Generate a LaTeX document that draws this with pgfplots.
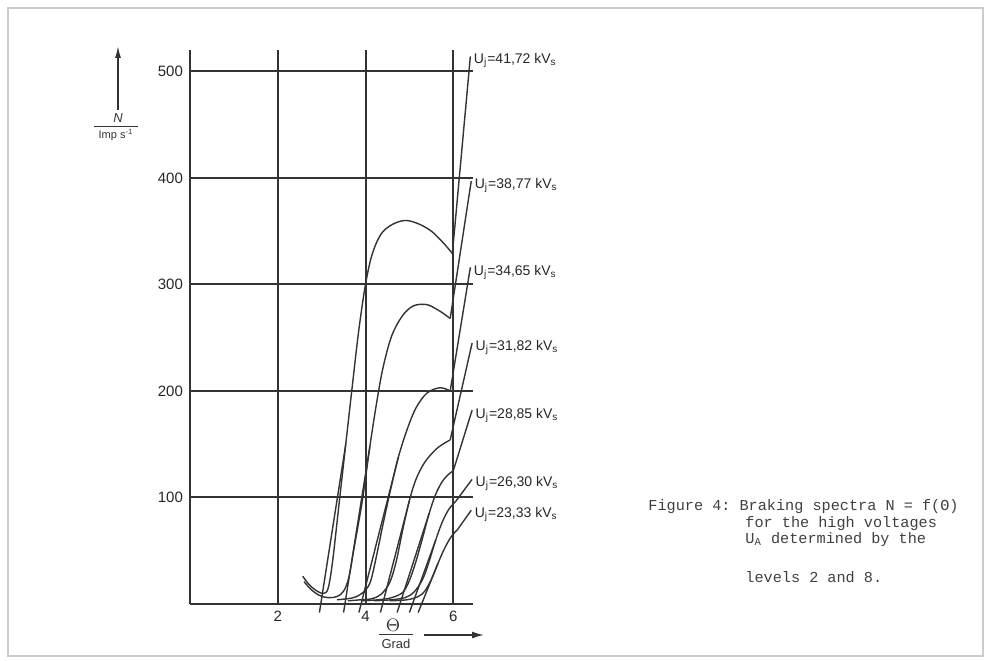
\documentclass[border=0pt]{standalone}
\usepackage{fontspec}
\setmainfont{Liberation Sans}
\setmonofont{Liberation Mono}
\usepackage{pgfplots}
\pgfplotsset{compat=1.18}
\usetikzlibrary{arrows.meta}
\tikzset{cv/.style={black!80, line width=0.7pt, smooth, tension=0.55},
  ln/.style={black!80, line width=0.7pt},
  lab/.style={anchor=west, font=\fontsize{7}{8}\selectfont, text=black!85, inner sep=0.5pt}}
\begin{document}
\begin{tikzpicture}[x=1pt,y=1pt]
\path[use as bounding box] (0pt,0pt) rectangle (494.5pt,330pt);
\draw[black!20, line width=0.6pt] (4pt,2pt) rectangle (491.5pt,326pt);
\begin{axis}[at={(95pt,28pt)}, anchor=south west, scale only axis,
  width=141.5pt, height=277pt,
  xmin=0, xmax=6.45, ymin=0, ymax=520,
  axis x line=bottom, axis y line=left,
  axis line style={-, line width=1pt, black!80},
  xtick={2,4,6}, ytick={100,200,300,400,500},
  grid=major, major grid style={line width=1pt, black!80},
  major tick length=0pt,
  /pgf/number format/assume math mode=true,
  ticklabel style={font=\fontsize{7.5}{8}\selectfont, text=black!85},
  clip=false]
% curve 41.72
\addplot[cv] coordinates {(2.57,26) (2.72,18) (2.9,12) (3.05,10) (3.15,15) (3.25,40) (3.4,95) (3.55,150) (3.7,205) (3.85,258) (4.0,300) (4.15,328) (4.35,347) (4.6,356) (4.9,360) (5.2,357) (5.5,350) (5.75,340) (5.9,333) (5.98,329)};
\addplot[ln] coordinates {(5.98,329) (6.39,514)};
\addplot[ln] coordinates {(2.95,-8) (3.55,150)};
% curve 38.77
\addplot[cv] coordinates {(2.6,21) (2.75,14) (2.95,8) (3.15,6) (3.35,7) (3.5,12) (3.62,25) (3.75,55) (3.85,78) (3.95,103) (4.1,148) (4.25,188) (4.4,222) (4.6,252) (4.85,271) (5.1,280) (5.4,281) (5.65,276) (5.8,272) (5.93,268)};
\addplot[ln] coordinates {(5.93,268) (6.41,397)};
\addplot[ln] coordinates {(3.5,-8) (4.1,148)};
% curve 34.65
\addplot[cv] coordinates {(3.35,4) (3.6,5) (3.8,7) (4.0,13) (4.12,22) (4.25,45) (4.4,75) (4.57,107) (4.75,138) (4.95,164) (5.15,184) (5.4,198) (5.7,203) (5.93,200)};
\addplot[ln] coordinates {(5.93,200) (6.39,316)};
\addplot[ln] coordinates {(3.85,-8) (4.75,138)};
% curve 31.82
\addplot[cv] coordinates {(3.6,3) (3.9,4) (4.15,5) (4.35,9) (4.55,20) (4.7,40) (4.85,70) (5.0,97) (5.15,117) (5.35,133) (5.6,145) (5.8,151) (5.93,154)};
\addplot[ln] coordinates {(5.93,154) (6.43,245)};
\addplot[ln] coordinates {(4.34,-8) (5.0,97)};
% curve 28.85
\addplot[cv] coordinates {(3.9,3) (4.3,4) (4.6,6) (4.85,11) (5.0,22) (5.15,40) (5.3,62) (5.45,85) (5.6,103) (5.75,115) (5.9,122) (6.0,125)};
\addplot[ln] coordinates {(6.0,125) (6.43,182)};
\addplot[ln] coordinates {(4.72,-8) (5.45,85)};
% curve 26.30
\addplot[cv] coordinates {(4.2,3) (4.6,4) (4.9,6) (5.1,11) (5.3,23) (5.45,40) (5.6,60) (5.75,77) (5.9,89) (6.05,96)};
\addplot[ln] coordinates {(6.05,96) (6.43,117)};
\addplot[ln] coordinates {(5.0,-8) (5.6,60)};
% curve 23.33
\addplot[cv] coordinates {(4.55,3) (4.95,4) (5.2,7) (5.35,12) (5.5,23) (5.65,38) (5.8,52) (5.95,63) (6.1,70)};
\addplot[ln] coordinates {(6.1,70) (6.41,88)};
\addplot[ln] coordinates {(5.2,-8) (5.65,38)};
% labels
\node[lab] at (axis cs:6.44,510) {U\textsubscript{j}=41,72 kV\textsubscript{s}};
\node[lab] at (axis cs:6.46,393) {U\textsubscript{j}=38,77 kV\textsubscript{s}};
\node[lab] at (axis cs:6.44,311) {U\textsubscript{j}=34,65 kV\textsubscript{s}};
\node[lab] at (axis cs:6.48,241) {U\textsubscript{j}=31,82 kV\textsubscript{s}};
\node[lab] at (axis cs:6.48,177) {U\textsubscript{j}=28,85 kV\textsubscript{s}};
\node[lab] at (axis cs:6.48,113) {U\textsubscript{j}=26,30 kV\textsubscript{s}};
\node[lab] at (axis cs:6.46,84) {U\textsubscript{j}=23,33 kV\textsubscript{s}};
\end{axis}
% y axis label
\draw[black!80, line width=0.7pt, -{Latex[length=6pt,width=3pt]}] (59pt,275pt) -- (59pt,307pt);
\node[font=\fontsize{6.5}{7}\selectfont\itshape, text=black!80] at (59pt,271pt) {N};
\draw[black!80, line width=0.5pt] (47pt,266.5pt) -- (69pt,266.5pt);
\node[font=\fontsize{5.5}{6}\selectfont, text=black!80] at (58pt,262.5pt) {Imp s\textsuperscript{-1}};
% x axis label
\node[font=\fontsize{9}{10}\selectfont, text=black!80] at (196.5pt,17.5pt) {$\Theta$};
\draw[black!80, line width=0.5pt] (189.5pt,12.8pt) -- (206.5pt,12.8pt);
\node[font=\fontsize{6.5}{7}\selectfont, text=black!80] at (198pt,8.3pt) {Grad};
\draw[black!80, line width=0.8pt, -{Latex[length=6pt,width=3.5pt]}] (212pt,12.5pt) -- (242pt,12.5pt);
% caption
\begin{scope}[every node/.style={anchor=base west, inner sep=0pt, font=\ttfamily\fontsize{7.6}{8}\selectfont, text=black!75}]
\node at (324pt,75pt) {Figure 4: Braking spectra N = f(Θ)};
\node at (372.5pt,66.5pt) {for the high voltages};
\node at (372.5pt,58.5pt) {U\textsubscript{A} determined by the};
\node at (372.5pt,39pt) {levels 2 and 8.};
\end{scope}
\end{tikzpicture}
\end{document}
